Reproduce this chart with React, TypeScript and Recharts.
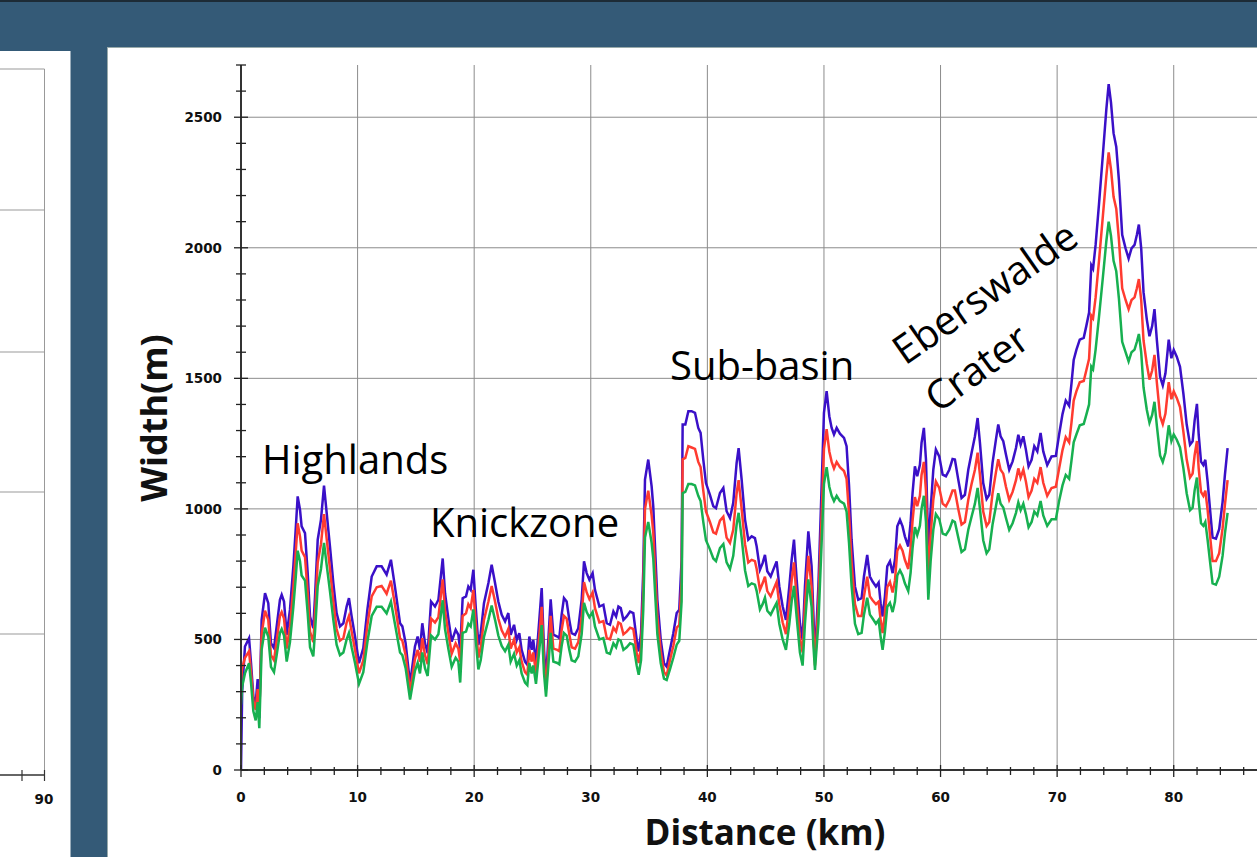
import React from 'react';
import { LineChart, Line, XAxis, YAxis, ReferenceLine } from 'recharts';

// distance along the channel (km)
const distanceKm = [
  0, 0.1, 0.34, 0.69, 0.86, 1.06, 1.26, 1.43, 1.57, 1.77,
  2.06, 2.34, 2.57, 2.83, 3.06, 3.34, 3.49, 3.69, 3.92, 4.2,
  4.49, 4.69, 4.86, 5.06, 5.2, 5.49, 5.72, 5.92, 6.2, 6.35,
  6.58, 6.86, 7.12, 7.35, 7.63, 7.92, 8.2, 8.49, 8.78, 9.06,
  9.26, 9.49, 9.78, 10.12, 10.49, 10.84, 11.21, 11.64, 12.06, 12.49,
  12.86, 13.2, 13.64, 13.84, 14.12, 14.5, 14.92, 15.15, 15.35, 15.55,
  15.78, 16.01, 16.3, 16.64, 16.93, 17.3, 17.5, 17.8, 18.07, 18.41,
  18.64, 18.8, 19.01, 19.3, 19.5, 19.7, 19.93, 20.13, 20.36, 20.56,
  20.84, 21.22, 21.5, 21.79, 22.07, 22.36, 22.65, 22.93, 23.13, 23.42,
  23.65, 23.87, 24.07, 24.36, 24.56, 24.73, 24.93, 25.07, 25.3, 25.5,
  25.79, 25.99, 26.16, 26.36, 26.56, 26.79, 27.13, 27.3, 27.5, 27.7,
  27.93, 28.16, 28.36, 28.65, 28.93, 29.22, 29.42, 29.65, 29.88, 30.16,
  30.36, 30.74, 31.08, 31.37, 31.65, 31.94, 32.17, 32.37, 32.57, 32.8,
  33.08, 33.37, 33.65, 33.94, 34.11, 34.31, 34.5, 34.65, 34.93, 35.22,
  35.36, 35.51, 35.71, 36.0, 36.28, 36.51, 36.79, 37.08, 37.37, 37.59,
  37.79, 37.88, 38.11, 38.37, 38.65, 38.94, 39.22, 39.42, 39.65, 39.88,
  40.22, 40.51, 40.74, 41.08, 41.37, 41.65, 41.94, 42.22, 42.51, 42.68,
  42.94, 43.23, 43.51, 43.8, 44.08, 44.23, 44.51, 44.74, 44.94, 45.14,
  45.43, 45.71, 45.94, 46.17, 46.46, 46.74, 47.03, 47.23, 47.43, 47.66,
  47.94, 48.17, 48.37, 48.66, 48.94, 49.09, 49.23, 49.52, 49.8, 50.0,
  50.23, 50.46, 50.66, 50.86, 51.09, 51.37, 51.72, 51.94, 52.15, 52.37,
  52.66, 52.94, 53.23, 53.43, 53.71, 53.94, 54.17, 54.46, 54.69, 54.86,
  55.03, 55.23, 55.43, 55.66, 55.89, 56.09, 56.29, 56.52, 56.74, 56.94,
  57.23, 57.43, 57.6, 57.8, 58.0, 58.23, 58.37, 58.57, 58.75, 58.95,
  59.15, 59.38, 59.6, 59.89, 60.18, 60.46, 60.75, 61.03, 61.23, 61.52,
  61.8, 62.09, 62.38, 62.66, 62.95, 63.18, 63.38, 63.66, 63.95, 64.18,
  64.46, 64.75, 64.95, 65.15, 65.38, 65.61, 65.89, 66.18, 66.47, 66.67,
  66.87, 67.1, 67.32, 67.55, 67.81, 68.04, 68.3, 68.58, 68.81, 69.15,
  69.52, 69.89, 70.17, 70.46, 70.74, 71.03, 71.23, 71.42, 71.65, 71.94,
  72.28, 72.5, 72.74, 72.93, 73.08, 73.3, 73.59, 73.93, 74.22, 74.42,
  74.62, 74.84, 75.07, 75.3, 75.58, 75.87, 76.13, 76.38, 76.64, 76.84,
  77.01, 77.21, 77.41, 77.69, 77.92, 78.15, 78.35, 78.55, 78.83, 79.06,
  79.29, 79.57, 79.8, 80.0, 80.26, 80.54, 80.83, 81.11, 81.4, 81.62,
  81.79, 81.99, 82.14, 82.34, 82.54, 82.71, 82.91, 83.11, 83.33, 83.62,
  83.9, 84.19, 84.39, 84.62,
];

// channel width, upper estimate (m)
const widthBlue = [
  0, 300, 473, 505, 409, 281, 256, 348, 198, 575,
  677, 639, 486, 467, 550, 652, 671, 645, 518, 614,
  780, 920, 1048, 997, 933, 907, 754, 588, 543, 665,
  882, 959, 1089, 984, 856, 716, 601, 550, 562, 626,
  658, 588, 511, 409, 467, 614, 741, 780, 780, 748,
  805, 703, 562, 550, 486, 330, 473, 511, 460, 562,
  486, 447, 645, 626, 652, 810, 677, 575, 492, 537,
  518, 460, 658, 665, 703, 690, 767, 626, 479, 524,
  639, 716, 786, 716, 645, 594, 569, 601, 518, 556,
  498, 524, 460, 415, 403, 511, 460, 498, 409, 524,
  697, 460, 345, 498, 654, 518, 511, 505, 594, 658,
  645, 575, 524, 518, 543, 652, 799, 754, 729, 754,
  690, 626, 633, 562, 556, 607, 588, 626, 620, 575,
  588, 607, 601, 498, 454, 524, 760, 1112, 1189, 1086,
  1010, 856, 652, 499, 409, 396, 460, 524, 601, 614,
  805, 1323, 1323, 1374, 1374, 1368, 1310, 1291, 1189, 1099,
  1054, 1010, 1003, 1061, 1080, 991, 965, 1023, 1176, 1233,
  1112, 959, 882, 895, 888, 856, 767, 792, 824, 761,
  741, 773, 799, 703, 626, 575, 703, 805, 882, 729,
  562, 499, 703, 914, 780, 601, 422, 703, 1086, 1368,
  1451, 1355, 1310, 1285, 1310, 1288, 1272, 1240, 1090, 882,
  703, 652, 658, 741, 824, 741, 722, 703, 718, 639,
  588, 665, 780, 799, 754, 805, 933, 958, 933, 895,
  856, 946, 1061, 1163, 1125, 1169, 1253, 1310, 1189, 844,
  997, 1150, 1227, 1201, 1131, 1125, 1150, 1191, 1189, 1112,
  1042, 1054, 1150, 1214, 1278, 1348, 1253, 1099, 1038, 1054,
  1176, 1265, 1323, 1278, 1259, 1208, 1150, 1182, 1233, 1284,
  1246, 1278, 1227, 1163, 1188, 1240, 1220, 1291, 1220, 1168,
  1201, 1203, 1285, 1363, 1415, 1395, 1480, 1570, 1609, 1648,
  1655, 1700, 1752, 1933, 1920, 2011, 2167, 2361, 2530, 2627,
  2556, 2439, 2387, 2258, 2050, 1998, 1959, 1998, 2011, 2050,
  2089, 1998, 1830, 1726, 1661, 1700, 1765, 1648, 1506, 1473,
  1519, 1648, 1577, 1609, 1583, 1544, 1441, 1324, 1246, 1259,
  1337, 1402, 1285, 1181, 1168, 1188, 1103, 1000, 890, 886,
  922, 1026, 1130, 1233,
];

// channel width, middle estimate (m)
const widthRed = [
  340, 390, 430, 455, 375, 265, 230, 310, 210, 520,
  610, 575, 440, 420, 495, 590, 605, 580, 465, 550,
  700, 830, 945, 895, 840, 815, 680, 530, 490, 600,
  795, 865, 980, 885, 770, 645, 540, 495, 505, 565,
  590, 530, 460, 370, 420, 555, 665, 700, 705, 675,
  725, 635, 505, 495, 440, 300, 425, 460, 415, 505,
  440, 405, 580, 565, 585, 730, 610, 520, 445, 485,
  465, 415, 590, 600, 635, 620, 690, 565, 430, 470,
  575, 645, 705, 645, 580, 535, 510, 540, 465, 500,
  450, 470, 415, 375, 365, 460, 415, 450, 370, 470,
  625, 415, 310, 450, 590, 465, 460, 455, 535, 590,
  580, 520, 470, 465, 490, 585, 720, 680, 655, 680,
  620, 565, 570, 505, 500, 545, 530, 565, 560, 520,
  530, 545, 540, 450, 410, 470, 685, 1000, 1070, 975,
  910, 770, 590, 455, 375, 362, 420, 475, 545, 555,
  725, 1190, 1195, 1240, 1235, 1230, 1180, 1160, 1070, 990,
  950, 910, 905, 955, 970, 890, 870, 920, 1060, 1110,
  1000, 865, 795, 805, 800, 770, 690, 715, 740, 685,
  665, 695, 720, 635, 565, 520, 635, 725, 795, 655,
  505, 450, 635, 820, 700, 540, 400, 635, 975, 1230,
  1305, 1220, 1180, 1155, 1180, 1160, 1145, 1115, 980, 795,
  635, 590, 590, 665, 740, 665, 650, 635, 645, 575,
  524, 600, 700, 720, 680, 725, 840, 860, 840, 805,
  770, 850, 955, 1045, 1010, 1050, 1130, 1180, 1070, 741,
  900, 1035, 1105, 1080, 1020, 1010, 1035, 1070, 1070, 1000,
  940, 950, 1035, 1095, 1150, 1215, 1130, 990, 935, 950,
  1060, 1140, 1190, 1150, 1135, 1085, 1035, 1065, 1110, 1155,
  1120, 1150, 1105, 1045, 1070, 1115, 1100, 1160, 1100, 1050,
  1080, 1085, 1155, 1225, 1275, 1255, 1330, 1415, 1450, 1485,
  1490, 1530, 1575, 1740, 1730, 1810, 1950, 2125, 2275, 2365,
  2300, 2195, 2150, 2030, 1845, 1800, 1765, 1800, 1810, 1845,
  1880, 1800, 1645, 1555, 1495, 1530, 1590, 1485, 1355, 1325,
  1365, 1485, 1420, 1450, 1425, 1390, 1295, 1190, 1120, 1135,
  1205, 1260, 1155, 1065, 1050, 1070, 995, 900, 800, 800,
  830, 925, 1015, 1110,
];

// channel width, lower estimate (m)
const widthGreen = [
  250, 320, 370, 409, 335, 225, 190, 260, 160, 460,
  545, 510, 395, 375, 440, 525, 540, 515, 415, 490,
  625, 735, 840, 800, 745, 725, 600, 470, 435, 530,
  705, 770, 870, 785, 685, 575, 480, 440, 450, 500,
  525, 470, 410, 330, 375, 490, 590, 625, 625, 600,
  645, 560, 450, 440, 390, 270, 380, 410, 370, 450,
  390, 360, 515, 500, 520, 650, 540, 460, 395, 430,
  415, 335, 525, 530, 560, 550, 615, 500, 385, 420,
  510, 575, 630, 575, 515, 475, 455, 480, 415, 445,
  400, 420, 370, 335, 325, 410, 370, 400, 330, 420,
  555, 370, 281, 400, 525, 415, 410, 405, 475, 525,
  515, 460, 420, 415, 435, 520, 640, 605, 585, 605,
  550, 500, 505, 450, 445, 485, 470, 500, 495, 460,
  470, 485, 480, 400, 365, 420, 610, 890, 950, 870,
  810, 685, 520, 410, 350, 345, 385, 430, 480, 495,
  645, 1060, 1065, 1095, 1095, 1090, 1050, 1030, 950, 880,
  845, 810, 800, 850, 865, 795, 770, 820, 940, 985,
  890, 765, 705, 715, 710, 685, 615, 635, 660, 610,
  595, 620, 640, 560, 500, 460, 560, 645, 705, 585,
  450, 400, 560, 730, 625, 480, 383, 560, 870, 1095,
  1160, 1085, 1050, 1030, 1050, 1030, 1020, 990, 870, 705,
  560, 520, 525, 595, 660, 595, 580, 560, 575, 510,
  460, 530, 625, 640, 605, 645, 745, 765, 745, 715,
  685, 755, 850, 930, 900, 935, 1000, 1050, 950, 652,
  800, 920, 980, 960, 905, 900, 920, 955, 950, 890,
  835, 845, 920, 970, 1020, 1080, 1000, 880, 830, 845,
  940, 1010, 1060, 1020, 1005, 965, 920, 945, 985, 1025,
  995, 1020, 980, 930, 950, 990, 975, 1030, 975, 935,
  960, 960, 1030, 1090, 1130, 1115, 1185, 1255, 1285, 1320,
  1325, 1360, 1400, 1545, 1535, 1610, 1735, 1890, 2025, 2100,
  2045, 1950, 1910, 1805, 1640, 1600, 1565, 1600, 1610, 1640,
  1670, 1600, 1465, 1380, 1330, 1360, 1410, 1320, 1205, 1180,
  1215, 1320, 1260, 1285, 1265, 1235, 1155, 1060, 995, 1005,
  1070, 1120, 1030, 945, 935, 950, 880, 800, 715, 710,
  740, 820, 905, 985,
];

const xTicks = [
  0, 2, 4, 6, 8, 10, 12, 14, 16, 18, 20, 22, 24, 26, 28, 30, 32, 34, 36, 38, 40, 42,
  44, 46, 48, 50, 52, 54, 56, 58, 60, 62, 64, 66, 68, 70, 72, 74, 76, 78, 80, 82, 84, 86,
];
const yTicks = [
  0, 100, 200, 300, 400, 500, 600, 700, 800, 900, 1000, 1100, 1200, 1300,
  1400, 1500, 1600, 1700, 1800, 1900, 2000, 2100, 2200, 2300, 2400, 2500, 2600, 2700,
];
const xGrid = [10, 20, 30, 40, 50, 60, 70, 80];
const yGrid = [500, 1000, 1500, 2000, 2500];

const data = distanceKm.map((km, i) => ({
  km,
  blue: widthBlue[i],
  red: widthRed[i],
  green: widthGreen[i],
}));

const tickFont = { fontFamily: 'DejaVu Sans, sans-serif', fontWeight: 700, fontSize: 13.5, fill: '#111' };

function XTick(props: any) {
  const { x, y, payload } = props;
  const major = payload.value % 10 === 0;
  return (
    <g>
      <line x1={x} x2={x} y1={y - (major ? 5 : 3)} y2={y + (major ? 7 : 5)} stroke="#222" strokeWidth={1.3} />
      {major && (
        <text x={x} y={y + 32} textAnchor="middle" {...tickFont}>
          {payload.value}
        </text>
      )}
    </g>
  );
}

function YTick(props: any) {
  const { x, y, payload } = props;
  const major = payload.value % 500 === 0;
  return (
    <g>
      <line x1={x - (major ? 7 : 5)} x2={x + (major ? 7 : 5)} y1={y} y2={y} stroke="#222" strokeWidth={1.3} />
      {major && (
        <text x={x - 19} y={y + 5} textAnchor="end" {...tickFont}>
          {payload.value}
        </text>
      )}
    </g>
  );
}

export default function App() {
  return (
    <div
      style={{
        position: 'fixed',
        left: 0,
        top: 0,
        width: 1257,
        height: 857,
        overflow: 'hidden',
        background: '#345a77',
        borderTop: '2px solid #1d2b36',
        boxSizing: 'border-box',
      }}
    >
      {/* neighbouring chart, cut off */}
      <svg style={{ position: 'absolute', left: 0, top: 0 }} width={71} height={857}>
        <rect x={0} y={49} width={70.5} height={808} fill="#fff" />
        <line x1={0} x2={44.5} y1={67} y2={67} stroke="#999" />
        <line x1={44.5} x2={44.5} y1={67} y2={773} stroke="#999" />
        {[208, 350, 490, 632].map((gy) => (
          <line key={gy} x1={0} x2={44.5} y1={gy} y2={gy} stroke="#999" />
        ))}
        <line x1={0} x2={45} y1={773} y2={773} stroke="#333" strokeWidth={1.5} />
        <line x1={22} x2={22} y1={768} y2={779} stroke="#333" strokeWidth={1.2} />
        <line x1={44.5} x2={44.5} y1={768} y2={779} stroke="#333" strokeWidth={1.2} />
        <text x={44} y={802} textAnchor="middle" {...tickFont}>
          90
        </text>
      </svg>

      <div
        style={{
          position: 'absolute',
          left: 107,
          top: 45,
          right: 0,
          bottom: 0,
          background: '#fff',
          borderLeft: '1px solid #9aa',
          borderTop: '1px solid #9aa',
        }}
      />

      <div style={{ position: 'absolute', left: 0, top: -2 }}>
        <LineChart width={1300} height={857} data={data} margin={{ top: 65, right: 33, bottom: 27, left: 181 }}>
          {xGrid.map((v) => (
            <ReferenceLine key={'x' + v} x={v} stroke="#8c8c8c" strokeWidth={1} />
          ))}
          {yGrid.map((v) => (
            <ReferenceLine key={'y' + v} y={v} stroke="#8c8c8c" strokeWidth={1} />
          ))}
          <XAxis
            dataKey="km"
            type="number"
            domain={[0, 88]}
            ticks={xTicks}
            interval={0}
            height={60}
            tickSize={0}
            tickMargin={0}
            tickLine={false}
            tick={<XTick />}
            axisLine={{ stroke: '#333', strokeWidth: 2 }}
            allowDataOverflow
          />
          <YAxis
            type="number"
            domain={[0, 2700]}
            ticks={yTicks}
            interval={0}
            width={60}
            tickSize={0}
            tickMargin={0}
            tickLine={false}
            tick={<YTick />}
            axisLine={{ stroke: '#333', strokeWidth: 2 }}
            allowDataOverflow
          />
          <Line type="linear" dataKey="blue" stroke="#3a10c8" strokeWidth={2.5} dot={false} isAnimationActive={false} />
          <Line type="linear" dataKey="red" stroke="#ff3b30" strokeWidth={2.5} dot={false} isAnimationActive={false} />
          <Line type="linear" dataKey="green" stroke="#17b050" strokeWidth={2.5} dot={false} isAnimationActive={false} />
        </LineChart>
      </div>

      <svg
        style={{ position: 'absolute', left: 0, top: -2, pointerEvents: 'none' }}
        width={1257}
        height={857}
      >
        <g fontFamily="'Open Sans', sans-serif" fontSize={40} fill="#000">
          <text x={262} y={474}>Highlands</text>
          <text x={430} y={537}>Knickzone</text>
          <text x={670} y={380}>Sub-basin</text>
          <text transform="translate(985,293) rotate(-35)" textAnchor="middle" y={14}>
            Eberswalde
          </text>
          <text transform="translate(977,368) rotate(-36)" textAnchor="middle" y={14}>
            Crater
          </text>
        </g>
        <g fontFamily="'Open Sans', sans-serif" fontWeight={700} fontSize={36} fill="#111">
          <text transform="translate(167,418) rotate(-90)" textAnchor="middle">
            Width(m)
          </text>
          <text x={765} y={845} fontSize={35} textAnchor="middle">
            Distance (km)
          </text>
        </g>
      </svg>
    </div>
  );
}
